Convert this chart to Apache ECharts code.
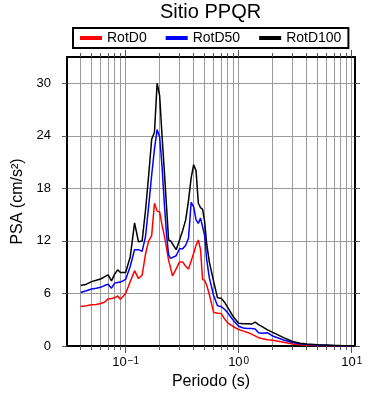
<!DOCTYPE html>
<html><head><meta charset="utf-8">
<script src="https://cdn.jsdelivr.net/npm/echarts@6/dist/echarts.min.js"></script>
<style>html,body{margin:0;padding:0;background:#fff}#c{width:390px;height:400px}</style>
</head><body><div id="c"></div>
<script>
// ---- data ----
const periods = [0.04, 0.045, 0.05, 0.055, 0.06, 0.065, 0.07, 0.075, 0.08, 0.085,
  0.09, 0.1, 0.11, 0.12, 0.13, 0.14, 0.15, 0.16, 0.17, 0.18,
  0.19, 0.2, 0.21, 0.22, 0.23, 0.24, 0.25, 0.26, 0.28, 0.3,
  0.32, 0.34, 0.36, 0.38, 0.4, 0.42, 0.44, 0.46, 0.48, 0.5,
  0.52, 0.55, 0.6, 0.65, 0.7, 0.75, 0.8, 0.9, 1.0, 1.1,
  1.2, 1.3, 1.4, 1.5, 1.6, 1.8, 2.0, 2.5, 3.0, 3.5,
  4.0, 5.0, 6.0, 7.0, 8.0, 10.0, 10.5];
const rotD0 = [4.5, 4.6, 4.7, 4.75, 4.85, 5.0, 5.38, 5.42, 5.5, 5.72,
  5.35, 6.0, 7.36, 8.6, 7.7, 8.1, 10.5, 12.0, 12.6, 16.3,
  15.4, 15.3, 13.8, 12.6, 11.2, 9.8, 8.9, 8.0, 8.8, 9.6,
  9.6, 9.1, 8.8, 9.7, 10.6, 11.5, 12.1, 11.0, 7.6, 7.5,
  7.0, 5.9, 3.86, 3.74, 3.7, 3.1, 2.65, 2.2, 1.88, 1.7,
  1.55, 1.35, 1.15, 0.95, 0.85, 0.72, 0.65, 0.42, 0.22, 0.15,
  0.1, 0.06, 0.04, 0.03, 0.02, 0.02, 0.02];
const rotD50 = [6.1, 6.3, 6.5, 6.6, 6.7, 6.9, 7.06, 6.6, 7.18, 7.25,
  7.3, 7.6, 9.1, 11.0, 11.0, 10.8, 12.5, 16.0, 19.5, 22.5,
  24.7, 23.9, 20.5, 16.3, 12.8, 10.4, 10.0, 9.8, 10.3, 11.1,
  11.1, 11.5, 12.3, 16.4, 15.9, 14.4, 14.0, 14.6, 13.6, 12.6,
  10.0, 7.8, 5.8, 4.6, 4.5, 4.2, 3.8, 2.9, 2.25, 2.05,
  2.0, 2.0, 1.95, 1.5, 1.45, 1.5, 1.15, 0.68, 0.4, 0.25,
  0.18, 0.1, 0.07, 0.05, 0.04, 0.03, 0.03];
const rotD100 = [6.9, 7.06, 7.35, 7.5, 7.65, 7.9, 8.13, 7.44, 8.2, 8.7,
  8.4, 8.4, 10.2, 14.05, 11.9, 12.0, 15.5, 19.5, 23.6, 24.4,
  30.0, 28.6, 24.0, 20.0, 16.0, 12.1, 12.0, 11.8, 11.0, 12.1,
  13.2, 14.4, 16.6, 19.2, 20.7, 20.0, 16.3, 15.8, 15.6, 14.2,
  11.8, 9.6, 7.4, 5.5, 5.46, 5.0, 4.4, 3.3, 2.6, 2.55,
  2.55, 2.5, 2.72, 2.45, 2.25, 1.85, 1.55, 0.95, 0.52, 0.32,
  0.24, 0.15, 0.11, 0.07, 0.05, 0.03, 0.03];
const seriesNames = ['RotD0', 'RotD50', 'RotD100'];
const seriesColors = ['#ff0000', '#0000ff', '#000000'];
const yTicks = [0, 6, 12, 18, 24, 30];
const xMajorTicks = [0.1, 1, 10];
const titleText = 'Sitio PPQR';
const xName = 'Periodo (s)';
const yName = 'PSA (cm/s²)';

// ---- chart ----
const FONT = 'Liberation Sans, Arial, Helvetica, sans-serif';
const xMin = Math.log10(0.0303), xMax = Math.log10(10.7);
const minorVals = [];
for (let e = -2; e <= 1; e++) for (let m = 1; m <= 9; m++) {
  const v = e + Math.log10(m);
  if (v >= xMin && v <= xMax) minorVals.push(v);
}
const majorVals = xMajorTicks.map(t => Math.round(Math.log10(t)));
const sup = {'-1': '−1', '0': '0', '1': '1'};

const allVals = [rotD0, rotD50, rotD100];
const chart = echarts.init(document.getElementById('c'), null, {renderer: 'canvas'});
const baseX = {type: 'value', min: xMin, max: xMax, gridIndex: 0};
const frameLine = {show: true, onZero: false, lineStyle: {color: '#000', width: 2}};
const noLine = {show: false, onZero: false};
chart.setOption({
  animation: false,
  backgroundColor: '#fff',
  textStyle: {fontFamily: FONT},
  title: {text: titleText, left: 160, top: 2, padding: 0,
    textStyle: {fontSize: 20, fontWeight: 'normal', color: '#000', fontFamily: FONT}},
  legend: {left: 73, top: 28, padding: [3, 7], itemGap: 19, itemWidth: 22, itemHeight: 4,
    icon: 'rect', borderColor: '#000', borderWidth: 2, data: seriesNames,
    textStyle: {fontSize: 14, color: '#000', fontFamily: FONT}},
  grid: {left: 67, right: 35, top: 57, bottom: 54},
  xAxis: [
    Object.assign({}, baseX, {position: 'bottom',
      axisLine: frameLine,
      axisTick: {show: true, customValues: minorVals, length: 4, lineStyle: {color: '#555'}},
      axisLabel: {show: false},
      splitLine: {show: true, lineStyle: {color: '#9a9a9a', width: 1}}}),
    Object.assign({}, baseX, {position: 'bottom',
      axisLine: noLine,
      axisTick: {show: true, customValues: majorVals, length: 7, lineStyle: {color: '#555'}},
      axisLabel: {show: true, customValues: majorVals, margin: 10, color: '#000', fontSize: 13,
        fontFamily: FONT,
        formatter: v => '10{s|' + sup[String(Math.round(v))] + '}',
        rich: {s: {fontSize: 10, verticalAlign: 'top', color: '#000', fontFamily: FONT, padding: [0, 0, 0, 1]}}},
      splitLine: {show: false},
      name: xName, nameLocation: 'middle', nameGap: 28,
      nameTextStyle: {fontSize: 16, color: '#000', fontFamily: FONT}}),
    Object.assign({}, baseX, {position: 'top',
      axisLine: frameLine,
      axisTick: {show: true, customValues: minorVals, length: 4, lineStyle: {color: '#555'}},
      axisLabel: {show: false}, splitLine: {show: false}}),
    Object.assign({}, baseX, {position: 'top',
      axisLine: noLine,
      axisTick: {show: true, customValues: majorVals, length: 7, lineStyle: {color: '#555'}},
      axisLabel: {show: false}, splitLine: {show: false}})
  ],
  yAxis: [
    {type: 'value', min: 0, max: 33, position: 'left',
      axisLine: frameLine,
      axisTick: {show: true, customValues: yTicks, length: 5, lineStyle: {color: '#555'}},
      axisLabel: {show: true, customValues: yTicks, margin: 16, color: '#000', fontSize: 13, fontFamily: FONT},
      splitLine: {show: true, lineStyle: {color: '#9a9a9a', width: 1}},
      name: yName, nameLocation: 'middle', nameGap: 31,
      nameTextStyle: {fontSize: 16, color: '#000', fontFamily: FONT}},
    {type: 'value', min: 0, max: 33, position: 'right',
      axisLine: frameLine,
      axisTick: {show: true, customValues: yTicks, length: 5, lineStyle: {color: '#555'}},
      axisLabel: {show: false}, splitLine: {show: false}}
  ],
  series: seriesNames.map((name, k) => ({
    name, type: 'line', xAxisIndex: 0, yAxisIndex: 0,
    showSymbol: false, symbol: 'none', clip: true,
    color: seriesColors[k],
    lineStyle: {color: seriesColors[k], width: 1.5},
    data: periods.map((p, i) => [Math.log10(p), allVals[k][i]])
  }))
});
</script></body></html>
